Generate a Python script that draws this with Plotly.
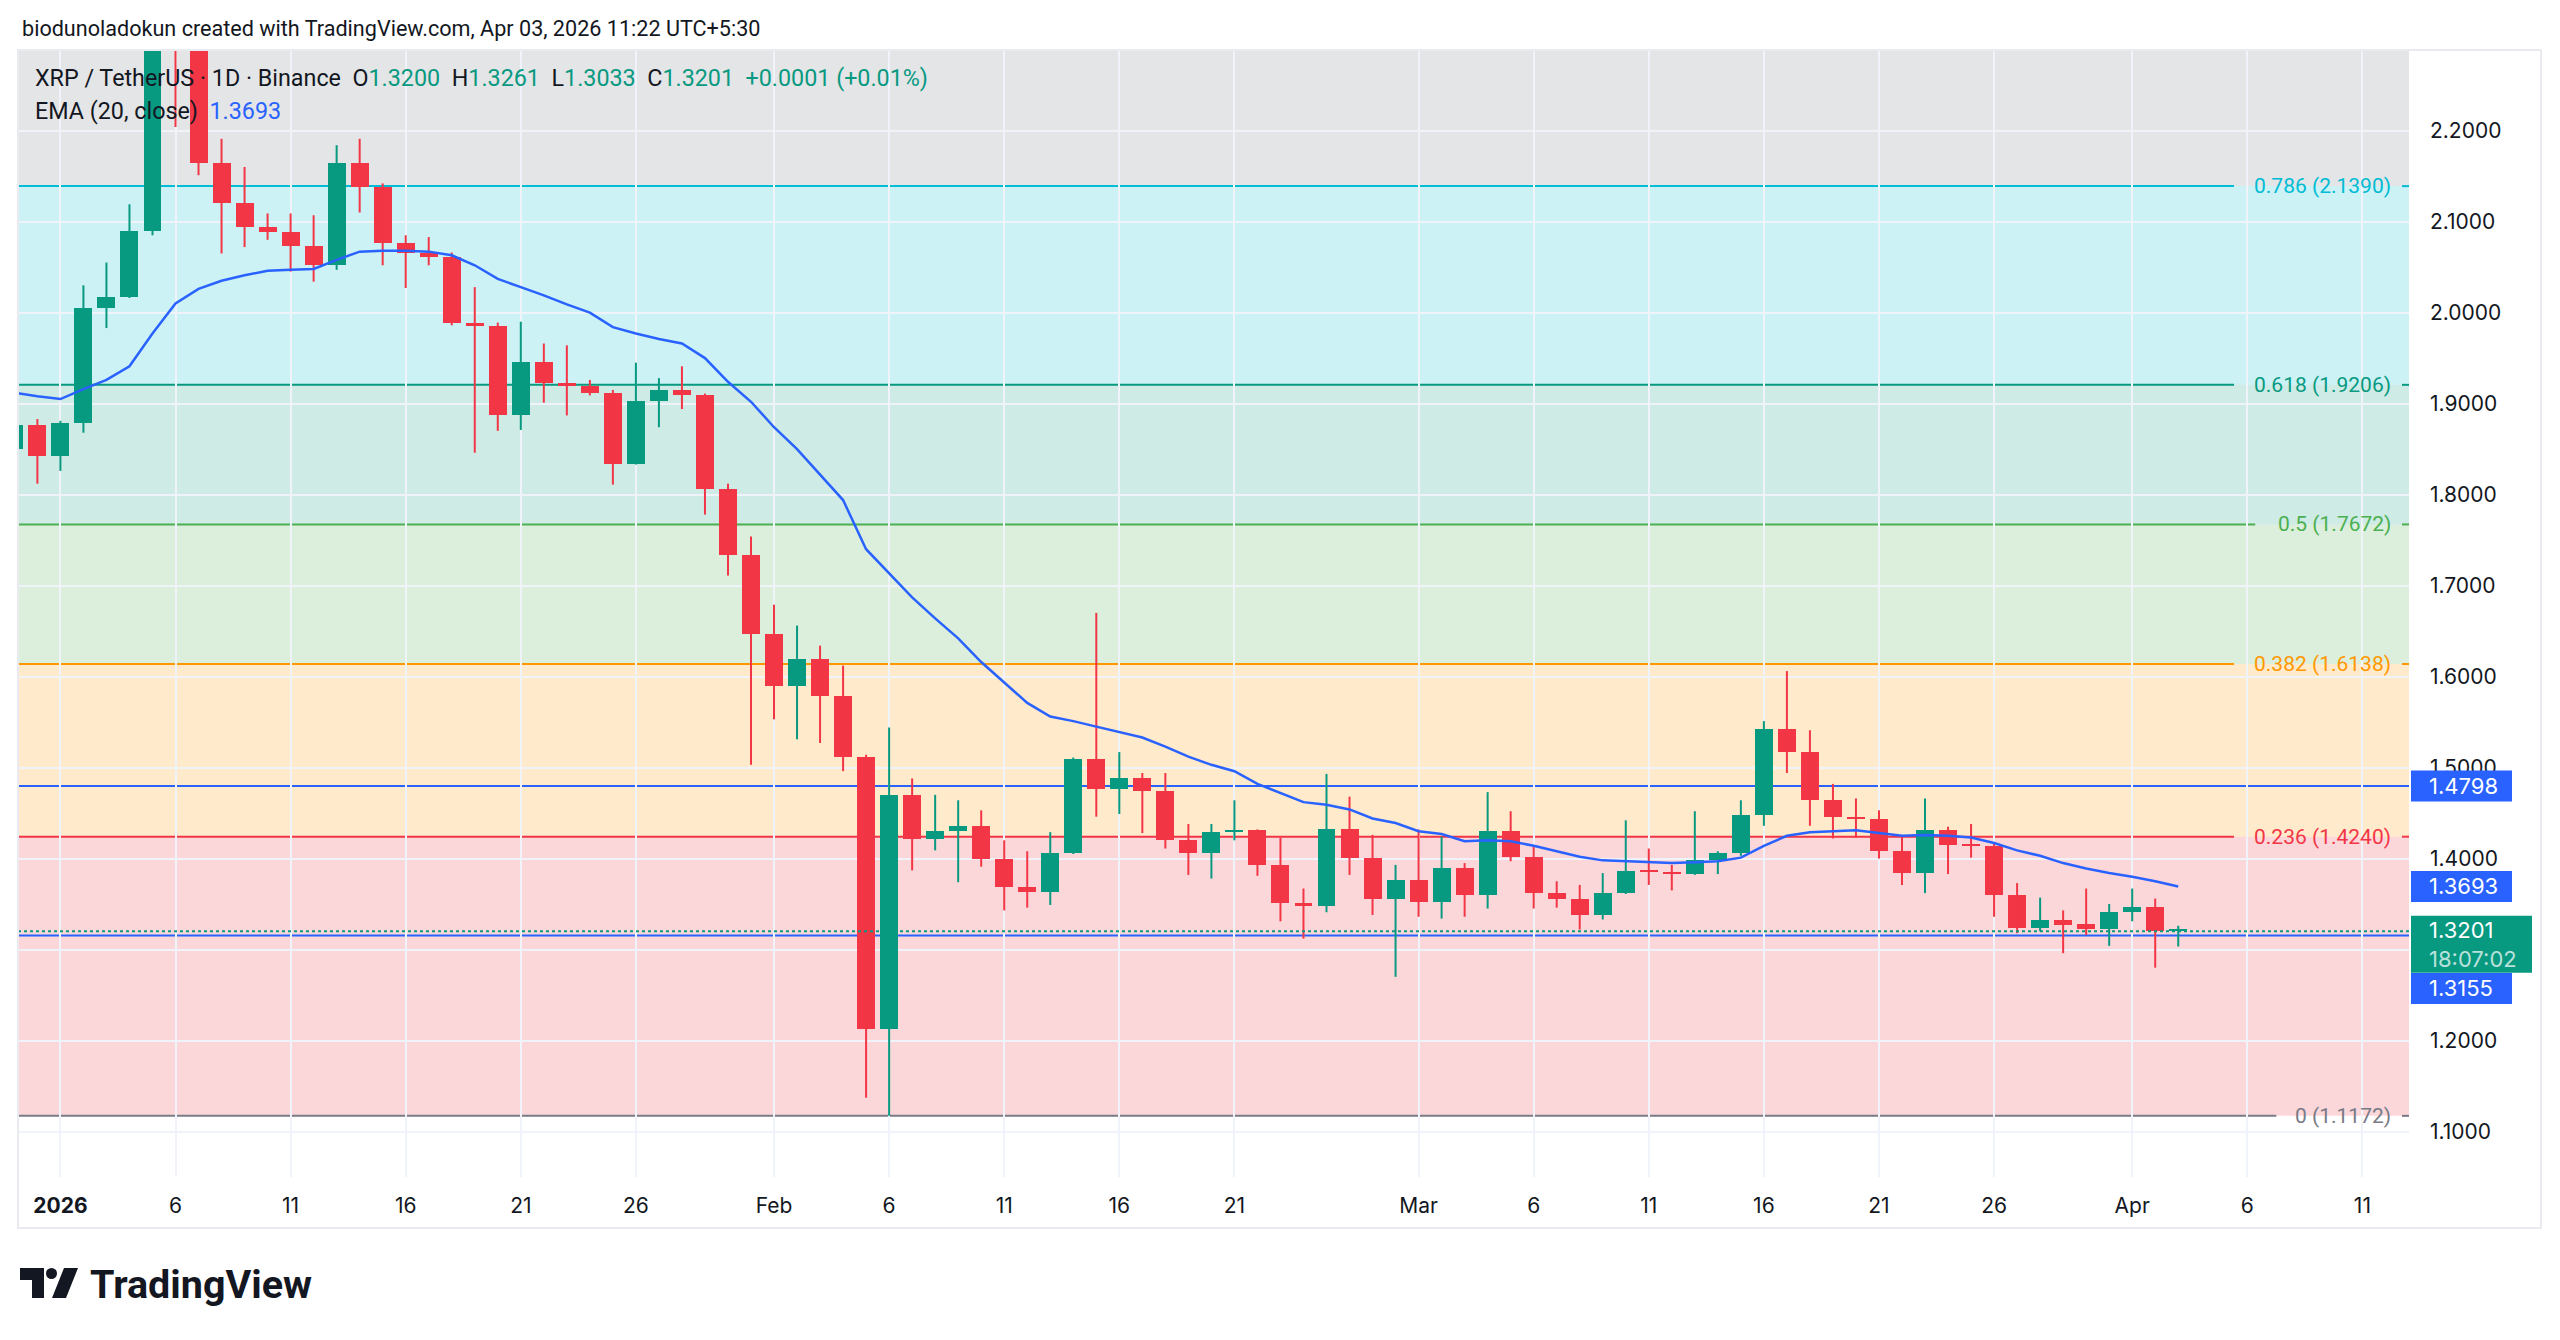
import pandas as pd
import plotly.graph_objects as go

# ---------------- data ----------------
dates = pd.date_range("2025-12-30", "2026-04-03", freq="D")

opens = [1.850, 1.876, 1.842, 1.879, 2.005, 2.017, 2.090, 2.330, 2.300, 2.164,
         2.121, 2.094, 2.089, 2.073, 2.052, 2.164, 2.138, 2.077, 2.066, 2.061,
         1.989, 1.985, 1.888, 1.946, 1.923, 1.919, 1.912, 1.834, 1.903, 1.915,
         1.909, 1.806, 1.734, 1.647, 1.590, 1.619, 1.579, 1.512, 1.213, 1.470,
         1.422, 1.430, 1.436, 1.399, 1.369, 1.363, 1.406, 1.509, 1.476, 1.488,
         1.474, 1.420, 1.406, 1.429, 1.431, 1.393, 1.351, 1.348, 1.433, 1.401,
         1.355, 1.376, 1.352, 1.390, 1.360, 1.430, 1.402, 1.362, 1.356, 1.338,
         1.362, 1.387, 1.385, 1.383, 1.398, 1.406, 1.448, 1.542, 1.517, 1.464,
         1.446, 1.444, 1.408, 1.384, 1.431, 1.416, 1.414, 1.360, 1.324, 1.333,
         1.328, 1.323, 1.341, 1.347, 1.3200]
highs = [1.878, 1.883, 1.881, 2.030, 2.055, 2.119, 2.350, 2.417, 2.320, 2.191,
         2.160, 2.109, 2.109, 2.107, 2.184, 2.191, 2.142, 2.085, 2.083, 2.066,
         2.028, 1.989, 1.990, 1.966, 1.964, 1.926, 1.915, 1.945, 1.928, 1.941,
         1.911, 1.812, 1.754, 1.679, 1.656, 1.634, 1.612, 1.514, 1.544, 1.488,
         1.470, 1.464, 1.453, 1.420, 1.408, 1.429, 1.511, 1.670, 1.517, 1.494,
         1.494, 1.438, 1.438, 1.464, 1.432, 1.423, 1.367, 1.493, 1.468, 1.426,
         1.393, 1.432, 1.424, 1.395, 1.473, 1.452, 1.414, 1.375, 1.371, 1.384,
         1.442, 1.411, 1.393, 1.452, 1.408, 1.464, 1.551, 1.606, 1.541, 1.482,
         1.466, 1.453, 1.426, 1.466, 1.435, 1.438, 1.417, 1.373, 1.357, 1.343,
         1.367, 1.350, 1.367, 1.356, 1.3261]
lows = [1.846, 1.812, 1.826, 1.868, 1.983, 2.016, 2.085, 2.204, 2.151, 2.065,
        2.072, 2.080, 2.045, 2.034, 2.047, 2.110, 2.052, 2.027, 2.052, 1.986,
        1.846, 1.870, 1.871, 1.901, 1.887, 1.909, 1.811, 1.833, 1.874, 1.894,
        1.778, 1.711, 1.503, 1.553, 1.531, 1.527, 1.496, 1.137, 1.1172, 1.387,
        1.409, 1.374, 1.391, 1.343, 1.346, 1.349, 1.405, 1.446, 1.449, 1.428,
        1.411, 1.382, 1.378, 1.420, 1.381, 1.331, 1.312, 1.341, 1.382, 1.338,
        1.270, 1.336, 1.334, 1.336, 1.345, 1.397, 1.345, 1.346, 1.322, 1.333,
        1.361, 1.371, 1.365, 1.382, 1.383, 1.403, 1.436, 1.494, 1.436, 1.422,
        1.423, 1.400, 1.371, 1.362, 1.383, 1.401, 1.336, 1.318, 1.320, 1.296,
        1.316, 1.304, 1.331, 1.280, 1.3033]
closes = [1.876, 1.842, 1.879, 2.005, 2.017, 2.090, 2.330, 2.300, 2.164, 2.121,
          2.094, 2.089, 2.073, 2.052, 2.164, 2.138, 2.077, 2.066, 2.061, 1.989,
          1.985, 1.888, 1.946, 1.923, 1.919, 1.912, 1.834, 1.903, 1.915, 1.909,
          1.806, 1.734, 1.647, 1.590, 1.619, 1.579, 1.512, 1.213, 1.470, 1.422,
          1.430, 1.436, 1.399, 1.369, 1.363, 1.406, 1.509, 1.476, 1.488, 1.474,
          1.420, 1.406, 1.429, 1.431, 1.393, 1.351, 1.348, 1.433, 1.401, 1.355,
          1.376, 1.352, 1.390, 1.360, 1.430, 1.402, 1.362, 1.356, 1.338, 1.362,
          1.386, 1.385, 1.383, 1.398, 1.406, 1.448, 1.542, 1.517, 1.464, 1.446,
          1.444, 1.408, 1.384, 1.431, 1.415, 1.414, 1.360, 1.324, 1.333, 1.327,
          1.323, 1.341, 1.347, 1.3200, 1.3201]
ema20 = [1.912, 1.908, 1.905, 1.916, 1.926, 1.941, 1.977, 2.010, 2.026, 2.035,
         2.041, 2.046, 2.047, 2.048, 2.058, 2.067, 2.068, 2.068, 2.067, 2.063,
         2.052, 2.037, 2.028, 2.019, 2.009, 2.000, 1.984, 1.977, 1.971, 1.966,
         1.950, 1.924, 1.902, 1.874, 1.850, 1.822, 1.794, 1.740, 1.714, 1.687,
         1.664, 1.642, 1.616, 1.593, 1.571, 1.556, 1.551, 1.545, 1.539, 1.533,
         1.523, 1.512, 1.503, 1.496, 1.482, 1.472, 1.462, 1.459, 1.454, 1.444,
         1.439, 1.430, 1.427, 1.419, 1.420, 1.419, 1.414, 1.408, 1.402, 1.398,
         1.397, 1.396, 1.395, 1.396, 1.397, 1.401, 1.414, 1.425, 1.429, 1.430,
         1.431, 1.428, 1.425, 1.426, 1.425, 1.423, 1.417, 1.409, 1.403, 1.395,
         1.389, 1.384, 1.380, 1.375, 1.3693]

fib_ratio_text = ["0", "0.236", "0.382", "0.5", "0.618", "0.786", "1"]
fib_prices = [1.1172, 1.4240, 1.6138, 1.7672, 1.9206, 2.1390, 2.4172]
hline_prices = [1.4798, 1.3155]
countdown = "18:07:02"

x_ticks = ["2026-01-01", "2026-01-06", "2026-01-11", "2026-01-16", "2026-01-21",
           "2026-01-26", "2026-02-01", "2026-02-06", "2026-02-11", "2026-02-16",
           "2026-02-21", "2026-03-01", "2026-03-06", "2026-03-11", "2026-03-16",
           "2026-03-21", "2026-03-26", "2026-04-01", "2026-04-06", "2026-04-11"]
x_tick_labels = ["<b>2026</b>", "6", "11", "16", "21", "26", "Feb", "6", "11", "16",
                 "21", "Mar", "6", "11", "16", "21", "26", "Apr", "6", "11"]
y_ticks = [1.1, 1.2, 1.3, 1.4, 1.5, 1.6, 1.7, 1.8, 1.9, 2.0, 2.1, 2.2]

header = "biodunoladokun created with TradingView.com, Apr 03, 2026 11:22 UTC+5:30"
symbol = "XRP / TetherUS · 1D · Binance"

# ---------------- style ----------------
W, H = 2560, 1340
PL, PR, PT, PB = 18, 2409, 50, 1177          # pane in pixels
UP, DN = "#089981", "#f23645"
BLUE = "#2962ff"
TXT = "#131722"
FIB_COLORS = ["#787b86", "#f23645", "#ff9800", "#4caf50", "#089981", "#00bcd4", "#787b86"]
Y_RANGE = [1.0500, 2.2886]
JAN1_PX, DAY_PX = 60.4, 23.02
jan1 = pd.Timestamp("2026-01-01")
X_RANGE = [jan1 + pd.Timedelta(days=(PL - JAN1_PX) / DAY_PX),
           jan1 + pd.Timedelta(days=(PR - JAN1_PX) / DAY_PX)]
DAY_MS = 86400000
PANE_H = PB - PT


def px(x):
    return (x - PL) / (PR - PL)


def py(y):
    return (PB - y) / (PB - PT)


def price_py(p):
    # paper y of a price through the fixed y-axis range
    return (p - Y_RANGE[0]) / (Y_RANGE[1] - Y_RANGE[0])


def rgba(h, a):
    h = h.lstrip("#")
    return f"rgba({int(h[0:2],16)},{int(h[2:4],16)},{int(h[4:6],16)},{a})"


fig = go.Figure()

# wicks
for color, cond in ((UP, True), (DN, False)):
    wx, wy = [], []
    for d, o, hi, lo, c in zip(dates, opens, highs, lows, closes):
        if (c >= o) == cond:
            wx += [d, d, None]
            wy += [lo, hi, None]
    fig.add_trace(go.Scatter(x=wx, y=wy, mode="lines",
                             line=dict(color=color, width=2), hoverinfo="skip"))

# bodies
for color, cond in ((UP, True), (DN, False)):
    bx, bb, bh = [], [], []
    for d, o, c in zip(dates, opens, closes):
        if (c >= o) == cond:
            bx.append(d)
            bb.append(min(o, c))
            bh.append(max(abs(c - o), 0.0022))
    fig.add_trace(go.Bar(x=bx, y=bh, base=bb, width=0.78 * DAY_MS,
                         marker=dict(color=color, line=dict(width=0)),
                         hoverinfo="skip"))

# EMA
fig.add_trace(go.Scatter(x=dates, y=ema20, mode="lines",
                         line=dict(color=BLUE, width=2.5), hoverinfo="skip"))

shapes = []
annotations = []

# fib bands
for i in range(1, len(fib_prices)):
    shapes.append(dict(type="rect", xref="paper", yref="y", x0=0, x1=1,
                       y0=fib_prices[i - 1], y1=min(fib_prices[i], Y_RANGE[1]),
                       fillcolor=rgba(FIB_COLORS[i], 0.2), line=dict(width=0),
                       layer="between"))

# fib lines + labels
LABEL_RIGHT = 2393
for i in range(len(fib_prices) - 1):
    txt = f"{fib_ratio_text[i]} ({fib_prices[i]:.4f})"
    text_left = LABEL_RIGHT - 10.57 * len(txt)
    col = FIB_COLORS[i]
    shapes.append(dict(type="line", xref="paper", yref="y", x0=0, x1=px(text_left - 11),
                       y0=fib_prices[i], y1=fib_prices[i], line=dict(color=col, width=2),
                       layer="between"))
    shapes.append(dict(type="line", xref="paper", yref="y", x0=px(LABEL_RIGHT + 9), x1=1,
                       y0=fib_prices[i], y1=fib_prices[i], line=dict(color=col, width=2),
                       layer="between"))
    annotations.append(dict(xref="paper", yref="y", x=px(LABEL_RIGHT), y=fib_prices[i],
                            xanchor="right", yanchor="middle", showarrow=False, text=txt,
                            font=dict(family="Roboto", size=21, color=col)))

# horizontal lines
for p in hline_prices:
    shapes.append(dict(type="line", xref="paper", yref="y", x0=0, x1=1, y0=p, y1=p,
                       line=dict(color=BLUE, width=2), layer="between"))
# last price dotted
shapes.append(dict(type="line", xref="paper", yref="y", x0=0, x1=1,
                   y0=closes[-1], y1=closes[-1],
                   line=dict(color=UP, width=2, dash="dot"), layer="above"))

# outer border
shapes.append(dict(type="rect", xref="paper", yref="paper", x0=px(18), x1=px(2541),
                   y0=py(1228), y1=py(50), line=dict(color="#e9ebf0", width=2),
                   fillcolor="rgba(0,0,0,0)", layer="above"))

# price axis boxes (background shapes + left-aligned texts)
BOX_L = 2411
TEXT_L = 2427
box_spans = []


def add_box(price, shift_px, right_px, height_px, color, text):
    yc = price_py(price) + shift_px / PANE_H
    half = height_px / 2 / PANE_H
    box_spans.append((yc - half, yc + half))
    shapes.append(dict(type="rect", xref="paper", yref="paper", x0=px(BOX_L), x1=px(right_px),
                       y0=yc - half, y1=yc + half, fillcolor=color,
                       line=dict(width=0), layer="above"))
    annotations.append(dict(xref="paper", yref="paper", x=px(TEXT_L), y=yc,
                            xanchor="left", yanchor="middle", showarrow=False, text=text,
                            align="left",
                            font=dict(family="Inter", size=22, color="white")))


add_box(hline_prices[0], 0, 2512, 31, BLUE, f"{hline_prices[0]:.4f}")
add_box(ema20[-1], 0, 2512, 31, BLUE, f"{ema20[-1]:.4f}")
add_box(closes[-1], -13, 2532, 57, UP,
        f"{closes[-1]:.4f}<br><span style='color:rgba(255,255,255,0.72)'>{countdown}</span>")
add_box(hline_prices[1], -53, 2512, 31, BLUE, f"{hline_prices[1]:.4f}")

# tick labels fully hidden behind a price box are left blank
y_tick_text = []
for v in y_ticks:
    yv = price_py(v)
    hidden = any(lo + 6 / PANE_H < yv < hi - 6 / PANE_H for lo, hi in box_spans)
    y_tick_text.append("" if hidden else f"{v:.4f}")

# header and legend texts
annotations.append(dict(xref="paper", yref="paper", x=px(20), y=py(28), xanchor="left",
                        yanchor="middle", showarrow=False, text=header,
                        font=dict(family="Roboto", size=21.6, color=TXT)))
chg = closes[-1] - closes[-2]
g = lambda v: f"<span style='color:{UP}'>{v}</span>"
legend1 = (f"{symbol}  O{g(f'{opens[-1]:.4f}')}  H{g(f'{highs[-1]:.4f}')}  "
           f"L{g(f'{lows[-1]:.4f}')}  C{g(f'{closes[-1]:.4f}')}  "
           f"{g(f'{chg:+.4f} ({chg / closes[-2] * 100:+.2f}%)')}")
annotations.append(dict(xref="paper", yref="paper", x=px(33), y=py(78), xanchor="left",
                        yanchor="middle", showarrow=False, text=legend1,
                        font=dict(family="Roboto", size=23.3, color=TXT)))
annotations.append(dict(xref="paper", yref="paper", x=px(33), y=py(111), xanchor="left",
                        yanchor="middle", showarrow=False,
                        text=f"EMA (20, close)  <span style='color:{BLUE}'>{ema20[-1]:.4f}</span>",
                        font=dict(family="Roboto", size=23.3, color=TXT)))


# TradingView logo
def path(points):
    return "M " + " L ".join(f"{px(x)},{py(y)}" for x, y in points) + " Z"


shapes.append(dict(type="path", xref="paper", yref="paper",
                   path=path([(20, 1268), (44, 1268), (44, 1298), (32, 1298), (32, 1280), (20, 1280)]),
                   fillcolor=TXT, line=dict(width=0), layer="above"))
shapes.append(dict(type="circle", xref="paper", yref="paper", x0=px(46), x1=px(57),
                   y0=py(1279), y1=py(1268), fillcolor=TXT, line=dict(width=0), layer="above"))
shapes.append(dict(type="path", xref="paper", yref="paper",
                   path=path([(64, 1268), (78, 1268), (66, 1298), (52, 1298)]),
                   fillcolor=TXT, line=dict(width=0), layer="above"))
annotations.append(dict(xref="paper", yref="paper", x=px(88), y=py(1284), xanchor="left",
                        yanchor="middle", showarrow=False, text="<b>TradingView</b>",
                        font=dict(family="Roboto", size=39.5, color=TXT)))

fig.update_layout(
    width=W, height=H, autosize=False,
    margin=dict(l=PL, r=W - PR, t=PT, b=H - PB, pad=0),
    paper_bgcolor="white", plot_bgcolor="white",
    showlegend=False, hovermode=False, barmode="overlay", bargap=0,
    shapes=shapes, annotations=annotations,
    xaxis=dict(type="date", range=X_RANGE, tickvals=x_ticks, ticktext=x_tick_labels,
               showgrid=True, gridcolor="#f0f3fa", gridwidth=2, zeroline=False,
               showline=False, ticks="", ticklabelstandoff=14,
               tickfont=dict(family="Inter", size=21, color=TXT), fixedrange=True),
    yaxis=dict(side="right", range=Y_RANGE, tickvals=y_ticks, ticktext=y_tick_text,
               showgrid=True, gridcolor="#f0f3fa", gridwidth=2, zeroline=False,
               showline=False, ticks="", ticklabelstandoff=20,
               tickfont=dict(family="Inter", size=21, color=TXT), fixedrange=True),
)

fig.write_html("out.html")
